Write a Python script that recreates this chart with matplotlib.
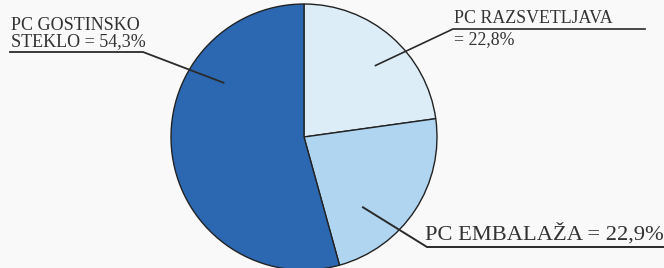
import numpy as np
import matplotlib
matplotlib.use("Agg")
import matplotlib.pyplot as plt

labels = ["PC RAZSVETLJAVA\n= 22,8%", "PC EMBALAŽA = 22,9%", "PC GOSTINSKO\nSTEKLO = 54,3%"]
values = [22.8, 22.9, 54.3]
colors = ["#dcedf8", "#afd5f1", "#2c68b2"]

W, H = 664, 268
fig = plt.figure(figsize=(W / 100, H / 100), dpi=100)
fig.patch.set_facecolor("#f9f9f9")
ax = fig.add_axes([0, 0, 1, 1])

cx, cy, R = 304, H - 137, 133
ax.pie(values, colors=colors, startangle=90, counterclock=False,
       center=(cx, cy), radius=R, frame=True,
       wedgeprops=dict(edgecolor="#222222", linewidth=1.0))
ax.set_xlim(0, W)
ax.set_ylim(0, H)
ax.axis("off")

def pt(angle_deg, frac):
    a = np.deg2rad(angle_deg)
    return cx + frac * R * np.cos(a), cy + frac * R * np.sin(a)

font = "Liberation Serif"
lc = "#2a2a2a"
tc = "#333333"

# Razsvetljava
p = pt(45, 0.76)
ax.plot([p[0], 453, 645], [p[1], H - 29, H - 29], color=lc, lw=1.2)
ax.text(454, H - 27, "PC RAZSVETLJAVA", family=font, fontsize=12.9, color=tc,
        ha="left", va="bottom")
ax.text(454, H - 31, "= 22,8%", family=font, fontsize=12.9, color=tc,
        ha="left", va="top")

# Embalaza
p = pt(-50, 0.69)
ax.plot([p[0], 427, 670], [p[1], H - 247, H - 247], color=lc, lw=1.4)
ax.text(425, H - 245, "PC EMBALAŽA = 22,9%", family=font, fontsize=16.2, color=tc,
        ha="left", va="bottom")

# Steklo
p = pt(146, 0.73)
ax.plot([p[0], 143, 10], [p[1], H - 52, H - 52], color=lc, lw=1.3)
ax.text(11, H - 50, "PC GOSTINSKO\nSTEKLO = 54,3%", family=font, fontsize=13.0, color=tc,
        ha="left", va="bottom", linespacing=0.95)

fig.savefig("out.png", dpi=100, facecolor=fig.get_facecolor())
